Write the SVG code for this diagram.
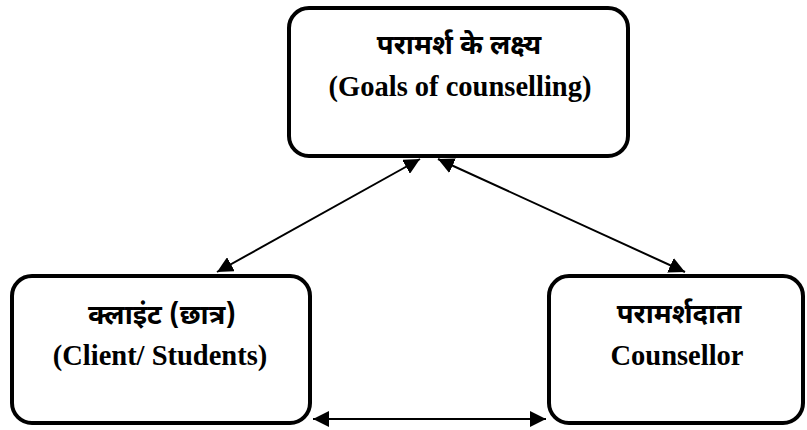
<svg xmlns="http://www.w3.org/2000/svg" width="807" height="430" viewBox="0 0 807 430">
<style>
.box{fill:#fff;stroke:#000;stroke-width:4}
.en{font-family:"Liberation Serif","Times New Roman",serif;font-weight:bold;font-size:28.5px;fill:#000;text-anchor:middle}
.hi{font-family:"Noto Sans Devanagari","Noto Serif Devanagari","Noto Sans","Liberation Serif",sans-serif;font-weight:bold;font-size:27.5px;fill:#000;text-anchor:middle}
.con{stroke:#000;stroke-width:2;fill:none;marker-start:url(#ah);marker-end:url(#ah)}
</style>
<defs>
<marker id="ah" viewBox="0 0 10 10" refX="10" refY="5" markerWidth="8" markerHeight="8" markerUnits="strokeWidth" orient="auto-start-reverse">
<path d="M0,0 L10,5 L0,10 z" fill="#000"/>
</marker>
</defs>
<g id="goals">
<rect class="box" x="289" y="8" width="339" height="148" rx="20"/>
<text class="hi" x="459" y="54">परामर्श के लक्ष्य</text>
<text class="en" x="460" y="96">(Goals of counselling)</text>
</g>
<g id="client">
<rect class="box" x="12" y="276" width="298" height="147" rx="20"/>
<text class="hi" x="162" y="324">क्लाइंट (छात्र)</text>
<text class="en" x="160" y="365">(Client/ Students)</text>
</g>
<g id="counsellor">
<rect class="box" x="549" y="276" width="254" height="147" rx="20"/>
<text class="hi" x="679" y="323">परामर्शदाता</text>
<text class="en" x="677" y="365">Counsellor</text>
</g>
<g id="connectors">
<line class="con" x1="420" y1="159" x2="217" y2="272"/>
<line class="con" x1="438" y1="159" x2="685" y2="272"/>
<line class="con" x1="313" y1="419" x2="546" y2="419"/>
</g>
</svg>
